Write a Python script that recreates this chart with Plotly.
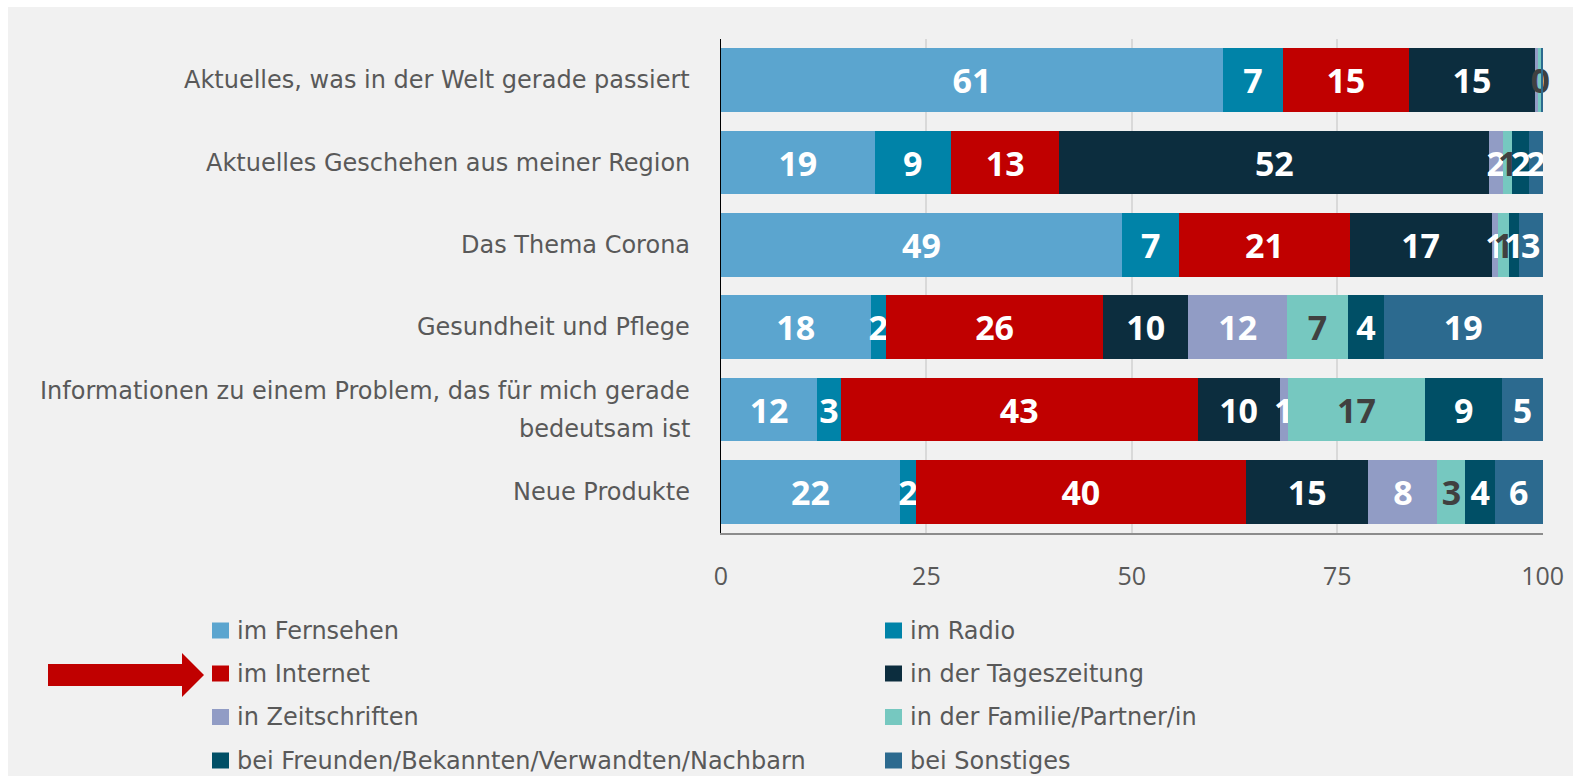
import plotly.graph_objects as go

# Topics (top to bottom)
categories = [
    "Aktuelles, was in der Welt gerade passiert",
    "Aktuelles Geschehen aus meiner Region",
    "Das Thema Corona",
    "Gesundheit und Pflege",
    "Informationen zu einem Problem, das für mich gerade\nbedeutsam ist",
    "Neue Produkte",
]

series_names = [
    "im Fernsehen",
    "im Radio",
    "im Internet",
    "in der Tageszeitung",
    "in Zeitschriften",
    "in der Familie/Partner/in",
    "bei Freunden/Bekannten/Verwandten/Nachbarn",
    "bei Sonstiges",
]

# Shares in percent per topic
fernsehen = [61.1, 18.7, 48.8, 18.2, 11.7, 21.8]
radio = [7.3, 9.3, 7.0, 1.9, 2.9, 1.9]
internet = [15.3, 13.2, 20.7, 26.4, 43.4, 40.2]
tageszeitung = [15.4, 52.3, 17.3, 10.4, 10.0, 14.9]
zeitschriften = [0.4, 1.7, 0.8, 12.0, 1.0, 8.4]
familie = [0.4, 1.1, 1.3, 7.4, 16.7, 3.4]
freunde = [0.0, 2.1, 1.2, 4.4, 9.4, 3.6]
sonstiges = [0.1, 1.6, 2.9, 19.3, 4.9, 5.8]

series_values = [fernsehen, radio, internet, tageszeitung,
                 zeitschriften, familie, freunde, sonstiges]

# Which value labels are printed (first topic hides tiny slivers)
label_visible = [
    [True] * 6,
    [True] * 6,
    [True] * 6,
    [True] * 6,
    [False, True, True, True, True, True],
    [True] * 6,
    [False, True, True, True, True, True],
    [False, True, True, True, True, True],
]

x_ticks = [0, 25, 50, 75, 100]

colors = ["#5BA5CF", "#0083A8", "#C00000", "#0C2D3E",
          "#919CC5", "#76C8C0", "#004F66", "#2C6A8F"]
label_colors = ["white", "white", "white", "white",
                "white", "#404040", "white", "white"]
# the family label of the first topic sits past the axis end
clip_labels = [True, True, True, True, True, False, True, True]

BG = "#F1F1F1"
TEXT_GREY = "#595959"
LABEL_FONT = "DejaVu Sans"
W, H = 1573, 776
ML, MR, MT, MB = 721, 30, 39, 243
PW, PH = W - ML - MR, H - MT - MB


def px(xp):
    return (xp - ML) / PW


def py(yp):
    return (H - MB - yp) / PH


ykeys = [c.replace("\n", " ") for c in categories]

fig = go.Figure()
for name, vals, col, tcol, vis, clip in zip(series_names, series_values,
                                            colors, label_colors,
                                            label_visible, clip_labels):
    fig.add_trace(go.Bar(
        name=name,
        x=vals,
        y=ykeys,
        orientation="h",
        marker=dict(color=col, line=dict(width=0)),
        texttemplate=["%{x:.0f}" if v else "" for v in vis],
        textposition="inside",
        insidetextanchor="middle",
        textangle=0,
        constraintext="none",
        cliponaxis=clip,
        textfont=dict(family="Open Sans, sans-serif",
                      size=34, color=tcol, weight="bold"),
        showlegend=False,
        hoverinfo="skip",
    ))

# Topic labels, centred line by line left of the axis
annotations = []
for key, cat in zip(ykeys, categories):
    lines = cat.split("\n")
    n = len(lines)
    for i, line in enumerate(lines):
        shift = (n - 1) * 19 - i * 38
        annotations.append(dict(
            x=px(692), xref="paper", y=key, yref="y",
            text=line, showarrow=False, xanchor="right", yanchor="middle",
            yshift=shift,
            font=dict(family=LABEL_FONT, size=24, color=TEXT_GREY),
        ))

# Legend: two columns, row-major order
shapes = []
legend_cols = [212, 885]
legend_rows = [630.5, 673.5, 717, 760.5]
for i, (name, col) in enumerate(zip(series_names, colors)):
    cx = legend_cols[i % 2]
    cy = legend_rows[i // 2]
    shapes.append(dict(type="rect", xref="paper", yref="paper",
                       x0=px(cx), x1=px(cx + 17), y0=py(cy - 8), y1=py(cy + 8),
                       fillcolor=col, line=dict(width=0)))
    annotations.append(dict(
        x=px(cx + 23), xref="paper", y=py(cy), yref="paper",
        text=name, showarrow=False, xanchor="left", yanchor="middle",
        font=dict(family=LABEL_FONT, size=24, color=TEXT_GREY),
    ))

# Red block arrow pointing at "im Internet"
ax0, ax1, ax2 = 48, 182, 204
ay = 675
path = (f"M {px(ax0)},{py(ay - 11)} L {px(ax1)},{py(ay - 11)} "
        f"L {px(ax1)},{py(ay - 22)} L {px(ax2)},{py(ay)} "
        f"L {px(ax1)},{py(ay + 22)} L {px(ax1)},{py(ay + 11)} "
        f"L {px(ax0)},{py(ay + 11)} Z")
shapes.append(dict(type="path", xref="paper", yref="paper", path=path,
                   fillcolor="#C00000", line=dict(width=0)))

# White frame strips at the top and left edge
shapes.append(dict(type="rect", xref="paper", yref="paper", layer="below",
                   x0=px(0), x1=px(8), y0=py(H), y1=py(0),
                   fillcolor="white", line=dict(width=0)))
shapes.append(dict(type="rect", xref="paper", yref="paper", layer="below",
                   x0=px(0), x1=px(W), y0=py(7), y1=py(0),
                   fillcolor="white", line=dict(width=0)))

fig.update_layout(
    width=W, height=H,
    autosize=False,
    margin=dict(l=ML, r=MR, t=MT, b=MB, pad=0, autoexpand=False),
    barmode="stack",
    bargap=0.225,
    paper_bgcolor=BG,
    plot_bgcolor=BG,
    uniformtext=dict(mode="show", minsize=34),
    annotations=annotations,
    shapes=shapes,
    xaxis=dict(range=[0, 100.05], tickvals=x_ticks, ticks="",
               showgrid=True, gridcolor="#D9D9D9", gridwidth=1.5,
               zeroline=False, showline=True, linecolor="#8C8C8C",
               linewidth=1.5, automargin=False,
               tickfont=dict(family="Open Sans", size=25, color=TEXT_GREY),
               ticklabelstandoff=20, fixedrange=True),
    yaxis=dict(type="category", categoryorder="array", categoryarray=ykeys,
               autorange="reversed", showticklabels=False, ticks="",
               showgrid=False, zeroline=False, showline=True,
               linecolor="black", linewidth=1, automargin=False,
               fixedrange=True),
)

fig.write_html("out.html")
